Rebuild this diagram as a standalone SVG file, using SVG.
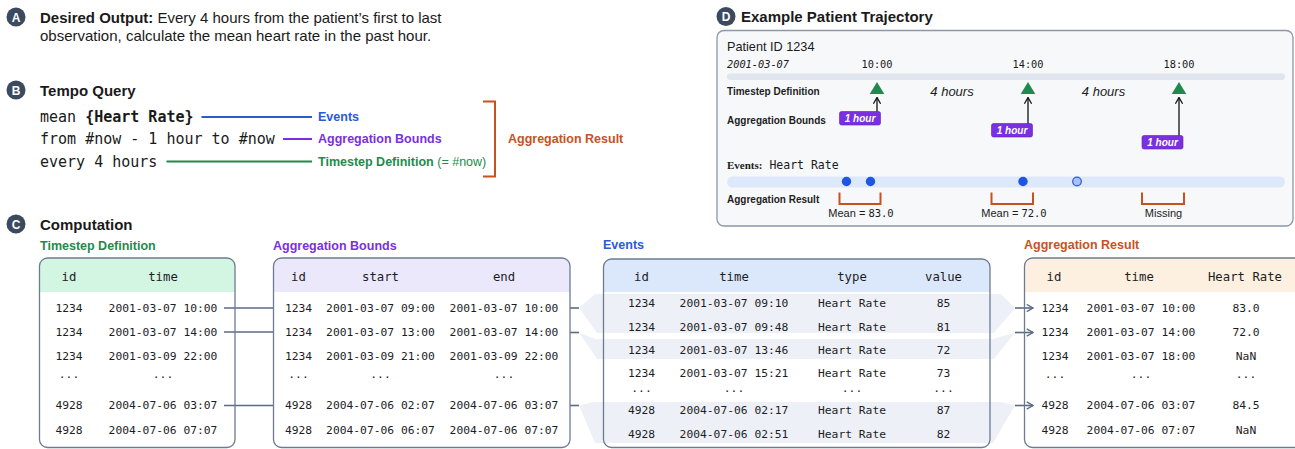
<svg xmlns="http://www.w3.org/2000/svg" width="1295" height="449" viewBox="0 0 1295 449">
<defs>
<style>
.sans{font-family:"Liberation Sans",Arial,sans-serif}
.mono{font-family:"DejaVu Sans Mono","Liberation Mono",monospace}
.b{font-weight:bold}
.lbl{font-family:"Liberation Sans",Arial,sans-serif;font-weight:bold;font-size:12.5px}
.hd{font-family:"DejaVu Sans Mono","Liberation Mono",monospace;font-size:12.3px;fill:#1d1d1f}
.cell{font-family:"DejaVu Sans Mono","Liberation Mono",monospace;font-size:11.3px;fill:#1d1d1f}
.tbl{fill:none;stroke:#6d7b90;stroke-width:1.3}
.link{stroke:#5b6b82;stroke-width:1.6;fill:none}
.band{fill:#edf1f7}
.dlbl{font-family:"Liberation Sans",Arial,sans-serif;font-weight:bold;font-size:10px;fill:#1d1d1f}
.badge{fill:#fff;font-family:"Liberation Sans",Arial,sans-serif;font-weight:bold;font-size:12px}
.hour{fill:#7a2fe0;stroke:#5e1fc0;stroke-width:0.6}
.hourt{fill:#fff;font-family:"Liberation Sans",Arial,sans-serif;font-weight:bold;font-style:italic;font-size:10px}
.obr{fill:none;stroke:#c9511f;stroke-width:2}
text{dominant-baseline:central}
</style>
<marker id="chev" viewBox="0 0 10 10" refX="9" refY="5" markerWidth="9" markerHeight="9" markerUnits="userSpaceOnUse" orient="auto">
<path d="M2,1 L9,5 L2,9" fill="none" stroke="#5b6b82" stroke-width="1.4"/>
</marker>
<marker id="up" viewBox="0 0 10 10" refX="9" refY="5" markerWidth="9" markerHeight="9" markerUnits="userSpaceOnUse" orient="auto">
<path d="M2,1 L9,5 L2,9" fill="none" stroke="#111" stroke-width="1.4"/>
</marker>
</defs>
<rect width="1295" height="449" fill="#fff"/>

<!-- A -->
<g id="sectionA">
<circle cx="16" cy="17" r="9.5" fill="#3b4a5f"/>
<text x="16" y="17.5" text-anchor="middle" class="badge">A</text>
<text x="40" y="17" class="sans" font-size="15" fill="#1a1a1a"><tspan class="b">Desired Output:</tspan> Every 4 hours from the patient’s first to last</text>
<text x="40" y="35.5" class="sans" font-size="15" fill="#1a1a1a">observation, calculate the mean heart rate in the past hour.</text>
</g>

<!-- B -->
<g id="sectionB">
<circle cx="16" cy="90" r="9.5" fill="#3b4a5f"/>
<text x="16" y="90.5" text-anchor="middle" class="badge">B</text>
<text x="40" y="90" class="sans b" font-size="15" fill="#1a1a1a">Tempo Query</text>
<text x="40" y="117" class="mono" font-size="15" fill="#1a1a1a">mean <tspan class="b">{Heart Rate}</tspan></text>
<text x="40" y="139" class="mono" font-size="15" fill="#1a1a1a">from #now - 1 hour to #now</text>
<text x="40" y="161.5" class="mono" font-size="15" fill="#1a1a1a">every 4 hours</text>
<text x="318" y="117" class="lbl" fill="#2a5bd7">Events</text>
<text x="318" y="139" class="lbl" fill="#7a2fe0">Aggregation Bounds</text>
<text x="318" y="161.5" class="lbl" fill="#1f8a4c">Timestep Definition<tspan font-weight="normal"> (= #now)</tspan></text>
<path class="obr" d="M483,101.5 H495 V176.5 H483"/>
<text x="508" y="139" class="lbl" fill="#c9511f">Aggregation Result</text>
</g>
<g id="queryConnectors">
<line x1="201.5" y1="117" x2="312" y2="117" stroke="#2a5bd7" stroke-width="2"/>
<line x1="283" y1="139" x2="312" y2="139" stroke="#7a2fe0" stroke-width="2"/>
<line x1="166.5" y1="161.5" x2="312" y2="161.5" stroke="#1f8a4c" stroke-width="2"/>
</g>

<!-- C -->
<g id="sectionC">
<circle cx="16" cy="224" r="9.5" fill="#3b4a5f"/>
<text x="16" y="224.5" text-anchor="middle" class="badge">C</text>
<text x="40" y="224" class="sans b" font-size="15" fill="#1a1a1a">Computation</text>
</g>

<!-- connectors (bands + links) -->
<g id="connectors">
<polygon class="band" points="579,308 595,294 1001,294 1015,308 994,333 597,333"/>
<polygon class="band" points="579,332.5 595,339 993,339 1015,332.5 994,359 597,359"/>
<polygon class="band" points="579,405.5 593,402 1001,402 1015,405.5 993,443 595,443"/>
<line class="link" x1="224" y1="308" x2="273.5" y2="308"/>
<line class="link" x1="224" y1="332" x2="273.5" y2="332"/>
<line class="link" x1="224" y1="405.5" x2="273.5" y2="405.5"/>
<line class="link" x1="570" y1="308" x2="579" y2="308"/>
<line class="link" x1="570" y1="332.5" x2="579" y2="332.5"/>
<line class="link" x1="570" y1="405.5" x2="579" y2="405.5"/>
<line class="link" x1="1015" y1="308" x2="1033" y2="308" marker-end="url(#chev)"/>
<line class="link" x1="1015" y1="332.5" x2="1033" y2="332.5" marker-end="url(#chev)"/>
<line class="link" x1="1015" y1="405.5" x2="1033" y2="405.5" marker-end="url(#chev)"/>
</g>

<!-- Timestep Definition table -->
<g id="tableTimestep">
<text x="40" y="245.5" class="lbl" fill="#1f8a4c">Timestep Definition</text>
<path d="M39.5,292 V266 Q39.5,258 47.5,258 H227 Q235,258 235,266 V292 Z" fill="#d3f6e3"/>
<rect class="tbl" x="39.5" y="258" width="195.5" height="189.5" rx="8"/>
<g class="hd" text-anchor="middle"><text x="69" y="277">id</text><text x="163" y="277">time</text></g>
<g class="cell" text-anchor="middle">
<text x="69" y="308">1234</text><text x="163" y="308">2001-03-07 10:00</text>
<text x="69" y="332">1234</text><text x="163" y="332">2001-03-07 14:00</text>
<text x="69" y="356">1234</text><text x="163" y="356">2001-03-09 22:00</text>
<text x="69" y="374">...</text><text x="163" y="374">...</text>
<text x="69" y="405.5">4928</text><text x="163" y="405.5">2004-07-06 03:07</text>
<text x="69" y="430">4928</text><text x="163" y="430">2004-07-06 07:07</text>
</g>
</g>

<!-- Aggregation Bounds table -->
<g id="tableBounds">
<text x="273" y="245.5" class="lbl" fill="#7a2fe0">Aggregation Bounds</text>
<path d="M273.5,292 V266 Q273.5,258 281.5,258 H562 Q570,258 570,266 V292 Z" fill="#ebe8fc"/>
<rect class="tbl" x="273.5" y="258" width="296.5" height="189.5" rx="8"/>
<g class="hd" text-anchor="middle"><text x="298.5" y="277">id</text><text x="380.5" y="277">start</text><text x="504" y="277">end</text></g>
<g class="cell" text-anchor="middle">
<text x="298.5" y="308">1234</text><text x="380.5" y="308">2001-03-07 09:00</text><text x="504" y="308">2001-03-07 10:00</text>
<text x="298.5" y="332">1234</text><text x="380.5" y="332">2001-03-07 13:00</text><text x="504" y="332">2001-03-07 14:00</text>
<text x="298.5" y="356">1234</text><text x="380.5" y="356">2001-03-09 21:00</text><text x="504" y="356">2001-03-09 22:00</text>
<text x="298.5" y="374">...</text><text x="380.5" y="374">...</text><text x="504" y="374">...</text>
<text x="298.5" y="405.5">4928</text><text x="380.5" y="405.5">2004-07-06 02:07</text><text x="504" y="405.5">2004-07-06 03:07</text>
<text x="298.5" y="430">4928</text><text x="380.5" y="430">2004-07-06 06:07</text><text x="504" y="430">2004-07-06 07:07</text>
</g>
</g>

<!-- Events table -->
<g id="tableEvents">
<text x="603" y="245" class="lbl" fill="#2a5bd7">Events</text>
<path d="M603.5,292 V267 Q603.5,259 611.5,259 H982 Q990,259 990,267 V292 Z" fill="#dbe8fb"/>
<rect class="tbl" x="603.5" y="259" width="386.5" height="188.5" rx="8"/>
<g class="hd" text-anchor="middle"><text x="641.5" y="277">id</text><text x="734" y="277">time</text><text x="852" y="277">type</text><text x="943.5" y="277">value</text></g>
<g class="cell" text-anchor="middle">
<text x="641.5" y="303.5">1234</text><text x="734" y="303.5">2001-03-07 09:10</text><text x="852" y="303.5">Heart Rate</text><text x="943.5" y="303.5">85</text>
<text x="641.5" y="327">1234</text><text x="734" y="327">2001-03-07 09:48</text><text x="852" y="327">Heart Rate</text><text x="943.5" y="327">81</text>
<text x="641.5" y="350">1234</text><text x="734" y="350">2001-03-07 13:46</text><text x="852" y="350">Heart Rate</text><text x="943.5" y="350">72</text>
<text x="641.5" y="373.5">1234</text><text x="734" y="373.5">2001-03-07 15:21</text><text x="852" y="373.5">Heart Rate</text><text x="943.5" y="373.5">73</text>
<text x="641.5" y="388.5">...</text><text x="734" y="388.5">...</text><text x="852" y="388.5">...</text><text x="943.5" y="388.5">...</text>
<text x="641.5" y="410.5">4928</text><text x="734" y="410.5">2004-07-06 02:17</text><text x="852" y="410.5">Heart Rate</text><text x="943.5" y="410.5">87</text>
<text x="641.5" y="434">4928</text><text x="734" y="434">2004-07-06 02:51</text><text x="852" y="434">Heart Rate</text><text x="943.5" y="434">82</text>
</g>
</g>

<!-- Aggregation Result table -->
<g id="tableResult">
<text x="1024" y="245" class="lbl" fill="#c9511f">Aggregation Result</text>
<path d="M1024.5,292 V266 Q1024.5,258 1032.5,258 H1302 Q1310,258 1310,266 V292 Z" fill="#fdf0e1"/>
<rect class="tbl" x="1024.5" y="258" width="285.5" height="189.5" rx="8"/>
<g class="hd" text-anchor="middle"><text x="1054" y="277">id</text><text x="1139" y="277">time</text><text x="1245" y="277">Heart Rate</text></g>
<g class="cell" text-anchor="middle">
<text x="1055" y="308">1234</text><text x="1141" y="308">2001-03-07 10:00</text><text x="1246" y="308">83.0</text>
<text x="1055" y="332">1234</text><text x="1141" y="332">2001-03-07 14:00</text><text x="1246" y="332">72.0</text>
<text x="1055" y="356">1234</text><text x="1141" y="356">2001-03-07 18:00</text><text x="1246" y="356">NaN</text>
<text x="1055" y="374">...</text><text x="1141" y="374">...</text><text x="1246" y="374">...</text>
<text x="1055" y="405.5">4928</text><text x="1141" y="405.5">2004-07-06 03:07</text><text x="1246" y="405.5">84.5</text>
<text x="1055" y="430">4928</text><text x="1141" y="430">2004-07-06 07:07</text><text x="1246" y="430">NaN</text>
</g>
</g>

<!-- D -->
<g id="sectionD">
<circle cx="726" cy="16.5" r="9.5" fill="#3b4a5f"/>
<text x="726" y="17" text-anchor="middle" class="badge">D</text>
<text x="741" y="16.5" class="sans b" font-size="15" fill="#1a1a1a">Example Patient Trajectory</text>
<rect x="717" y="30.5" width="576" height="195.5" rx="7" fill="#f7f8fa" stroke="#8d97a8" stroke-width="1.3"/>
<text x="727" y="46.5" class="sans" font-size="12.7" fill="#1a1a1a">Patient ID 1234</text>
<text x="727" y="64" class="mono" font-size="10.3" font-style="italic" fill="#1a1a1a">2001-03-07</text>
<g class="mono" font-size="10.3" fill="#1a1a1a" text-anchor="middle">
<text x="877" y="64">10:00</text><text x="1028" y="64">14:00</text><text x="1179" y="64">18:00</text>
</g>
<rect x="727" y="73.5" width="558" height="6.5" rx="3.2" fill="#e0e6ee"/>
<text x="727" y="91.5" class="dlbl">Timestep Definition</text>
<text x="727" y="120.5" class="dlbl">Aggregation Bounds</text>
<text x="727" y="199" class="dlbl">Aggregation Result</text>
<text x="727" y="165" fill="#1a1a1a"><tspan font-family="Liberation Serif,serif" font-weight="bold" font-size="11">Events:</tspan><tspan class="mono" font-size="11.5"> Heart Rate</tspan></text>
<g fill="#1f8a4c">
<polygon points="877,82 884.3,94 869.7,94"/>
<polygon points="1028,82 1035.3,94 1020.7,94"/>
<polygon points="1179,82 1186.3,94 1171.7,94"/>
</g>
<g class="sans" font-size="13" font-style="italic" fill="#1a1a1a" text-anchor="middle">
<text x="952" y="91.5">4 hours</text><text x="1103.5" y="91.5">4 hours</text>
</g>
<g stroke="#111" stroke-width="1.3">
<line x1="877" y1="112" x2="877" y2="97.5" marker-end="url(#up)"/>
<line x1="1028" y1="124" x2="1028" y2="97.5" marker-end="url(#up)"/>
<line x1="1179" y1="136" x2="1179" y2="97.5" marker-end="url(#up)"/>
</g>
<rect class="hour" x="839.5" y="111.5" width="41" height="13.5" rx="2"/>
<text x="860" y="118.5" text-anchor="middle" class="hourt">1 hour</text>
<rect class="hour" x="991.5" y="123.5" width="41" height="13.5" rx="2"/>
<text x="1012" y="130.5" text-anchor="middle" class="hourt">1 hour</text>
<rect class="hour" x="1142" y="135.5" width="41" height="13.5" rx="2"/>
<text x="1162.5" y="142.5" text-anchor="middle" class="hourt">1 hour</text>
<rect x="727" y="176.5" width="558" height="11" rx="5.5" fill="#dde9fb"/>
<g fill="#1f55e0">
<circle cx="846.5" cy="181.5" r="4.7"/>
<circle cx="870.5" cy="181.5" r="4.7"/>
<circle cx="1023" cy="181.5" r="4.7"/>
</g>
<circle cx="1077" cy="181.5" r="4.3" fill="#a7c0f5" stroke="#2a5bd7" stroke-width="1.2"/>
<path class="obr" d="M839.5,192.5 V204 H880.5 V192.5"/>
<path class="obr" d="M991.5,192.5 V204 H1033 V192.5"/>
<path class="obr" d="M1142,192.5 V204 H1184 V192.5"/>
<text x="861" y="213" text-anchor="middle" fill="#1a1a1a"><tspan class="sans" font-size="11">Mean = </tspan><tspan class="mono" font-size="10.5">83.0</tspan></text>
<text x="1014" y="213" text-anchor="middle" fill="#1a1a1a"><tspan class="sans" font-size="11">Mean = </tspan><tspan class="mono" font-size="10.5">72.0</tspan></text>
<text x="1163.5" y="213" text-anchor="middle" class="sans" font-size="11" fill="#1a1a1a">Missing</text>
</g>
</svg>
